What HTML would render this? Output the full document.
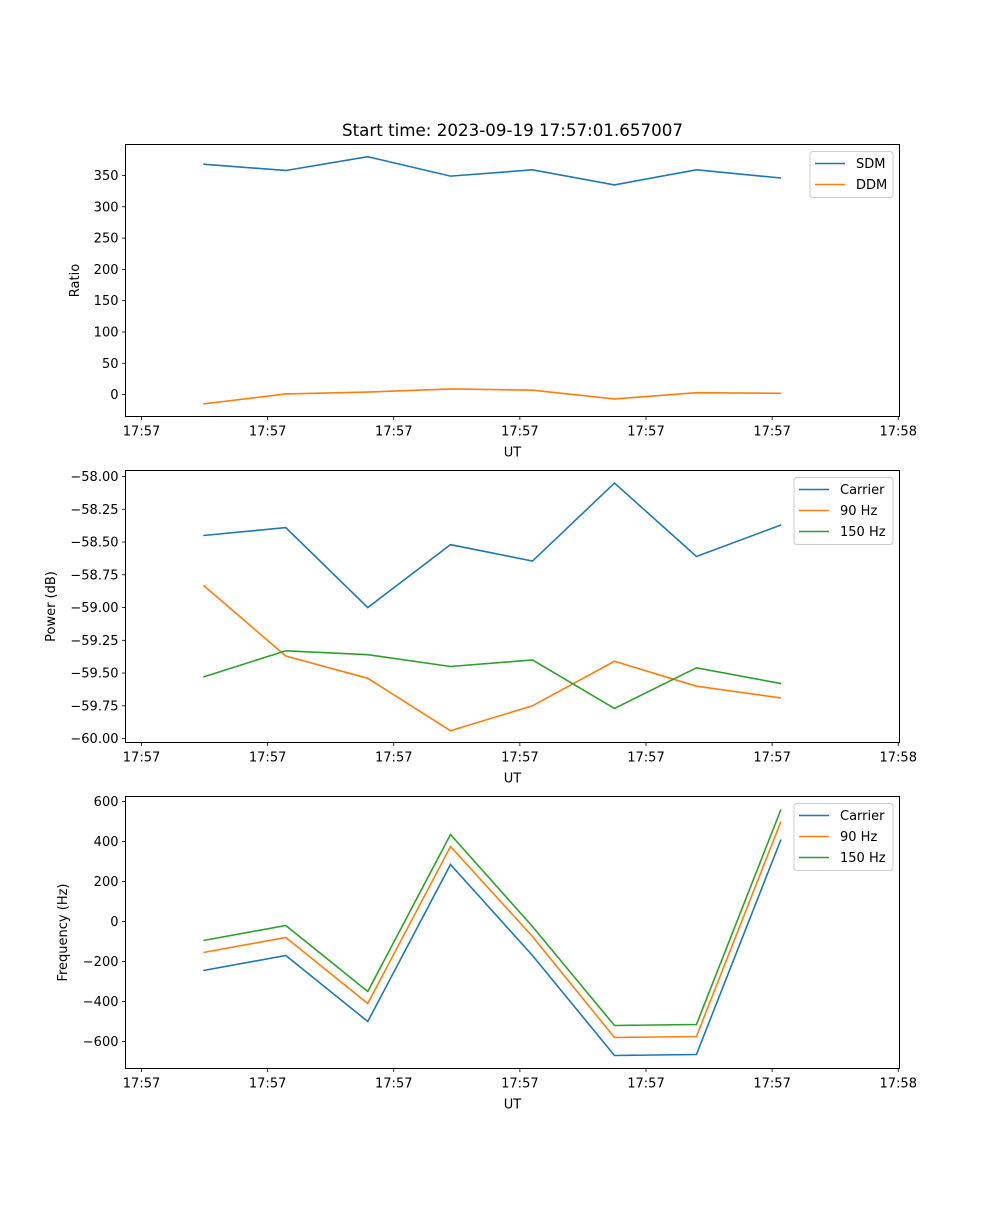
<!DOCTYPE html>
<html><head><meta charset="utf-8"><style>
html,body{margin:0;padding:0;background:#fff}
svg text{font-family:"DejaVu Sans","Liberation Sans",sans-serif;fill:#000}
</style></head><body>
<svg id="chart" width="1000" height="1200" xmlns="http://www.w3.org/2000/svg">
<text x="512.5" y="136" font-size="16.7" text-anchor="middle">Start time: 2023-09-19 17:57:01.657007</text>
</svg>
<script>
// x values: seconds after 17:57:00
const times = [4.9, 11.44, 17.94, 24.5, 31.0, 37.5, 44.0, 50.7];
const xTickVals = [0, 10, 20, 30, 40, 50, 60];
const xTickLabels = ["17:57","17:57","17:57","17:57","17:57","17:57","17:58"];

const sdm = [368, 358, 380, 349, 359, 335, 359, 346];
const ddm = [-15, 1, 4, 9, 7, -7, 3, 2];
const ratioTicks = [0, 50, 100, 150, 200, 250, 300, 350];

const powCarrier = [-58.45, -58.39, -59.00, -58.52, -58.645, -58.05, -58.61, -58.37];
const pow90 = [-58.83, -59.37, -59.54, -59.94, -59.75, -59.41, -59.60, -59.69];
const pow150 = [-59.53, -59.33, -59.36, -59.45, -59.40, -59.77, -59.46, -59.58];
const powTicks = [-60.0, -59.75, -59.5, -59.25, -59.0, -58.75, -58.5, -58.25, -58.0];
const powTickLabels = ["\u221260.00","\u221259.75","\u221259.50","\u221259.25","\u221259.00","\u221258.75","\u221258.50","\u221258.25","\u221258.00"];

const freqCarrier = [-245, -170, -500, 285, -170, -670, -665, 410];
const freq90 = [-155, -80, -410, 375, -75, -580, -575, 500];
const freq150 = [-95, -20, -350, 435, -25, -520, -515, 560];
const freqTicks = [-600, -400, -200, 0, 200, 400, 600];
const freqTickLabels = ["\u2212600","\u2212400","\u2212200","0","200","400","600"];

const C = {blue:"#1f77b4", orange:"#ff7f0e", green:"#2ca02c"};
const svg = document.getElementById('chart');
const NS = "http://www.w3.org/2000/svg";
function mk(tag, attrs, parent){const e=document.createElementNS(NS,tag);for(const k in attrs)e.setAttribute(k,attrs[k]);(parent||svg).appendChild(e);return e;}

const L=125.5, R=899.5, xMin=-1.27, xMax=60.1;
function xs(v){return L+(v-xMin)/(xMax-xMin)*(R-L);}

function panel(key, top, bottom, yMin, yMax, yTicks, yTickLabels, ylabel, ylabelX, series, legend){
  const g=mk('g',{});
  
  
  const ys=v=>bottom-(v-yMin)/(yMax-yMin)*(bottom-top);
  series.forEach(s=>{
    const p=mk('polyline',{points:times.map((t,i)=>xs(t)+','+ys(s.vals[i])).join(' '),fill:'none',stroke:s.color,'stroke-width':1.6},g);
    
    
  });
  const fr=mk('rect',{x:L,y:top,width:R-L,height:bottom-top,fill:'none',stroke:'#000','stroke-width':1},g);
  
  
  yTicks.forEach((v,i)=>{
    const y=ys(v);
    mk('line',{x1:L-3.5,x2:L,y1:y,y2:y,stroke:'#000','stroke-width':0.8},g);
    const t=mk('text',{x:L-7,y:y+4.5,'font-size':13,'text-anchor':'end'},g);
    t.textContent=yTickLabels[i];
    
    
  });
  xTickVals.forEach((v,i)=>{
    const x=xs(v);
    mk('line',{x1:x,x2:x,y1:bottom,y2:bottom+3.5,stroke:'#000','stroke-width':0.8},g);
    const t=mk('text',{x:x,y:bottom+19,'font-size':13,'text-anchor':'middle'},g);
    t.textContent=xTickLabels[i];
    
    
  });
  const xl=mk('text',{x:512.5,y:bottom+40,'font-size':13,'text-anchor':'middle'},g);
  xl.textContent='UT';
  
  
  const cy=(top+bottom)/2;
  const yl=mk('text',{x:ylabelX,y:cy,'font-size':13,'text-anchor':'middle',transform:'rotate(-90 '+ylabelX+' '+cy+')'},g);
  yl.textContent=ylabel;
  
  
  const lg=mk('g',{},g);
  
  
  mk('rect',{x:legend.x,y:top+7,width:893-legend.x,height:series.length*21+4,rx:3,fill:'#fff','fill-opacity':0.8,stroke:'#ccc','stroke-width':1},lg);
  series.forEach((s,i)=>{
    const y=top+19+i*21;
    const e=mk('g',{},lg);
    
    
    mk('line',{x1:legend.x+5,x2:legend.x+35,y1:y,y2:y,stroke:s.color,'stroke-width':1.6},e);
    const t=mk('text',{x:legend.x+46,y:y+4.5,'font-size':13},e);
    t.textContent=s.label;
  });
}

panel('ratio',144.5,416.5,-35,399.5,ratioTicks,ratioTicks.map(String),'Ratio',79,
  [{id:'sdm',label:'SDM',vals:sdm,color:C.blue},{id:'ddm',label:'DDM',vals:ddm,color:C.orange}],{x:810});
panel('power',470.5,742.5,-60.03,-57.954,powTicks,powTickLabels,'Power (dB)',55,
  [{id:'carrier',label:'Carrier',vals:powCarrier,color:C.blue},{id:'90hz',label:'90 Hz',vals:pow90,color:C.orange},{id:'150hz',label:'150 Hz',vals:pow150,color:C.green}],{x:794});
panel('frequency',796.5,1068.5,-735,625,freqTicks,freqTickLabels,'Frequency (Hz)',67,
  [{id:'carrier',label:'Carrier',vals:freqCarrier,color:C.blue},{id:'90hz',label:'90 Hz',vals:freq90,color:C.orange},{id:'150hz',label:'150 Hz',vals:freq150,color:C.green}],{x:794});
</script>
</body></html>
